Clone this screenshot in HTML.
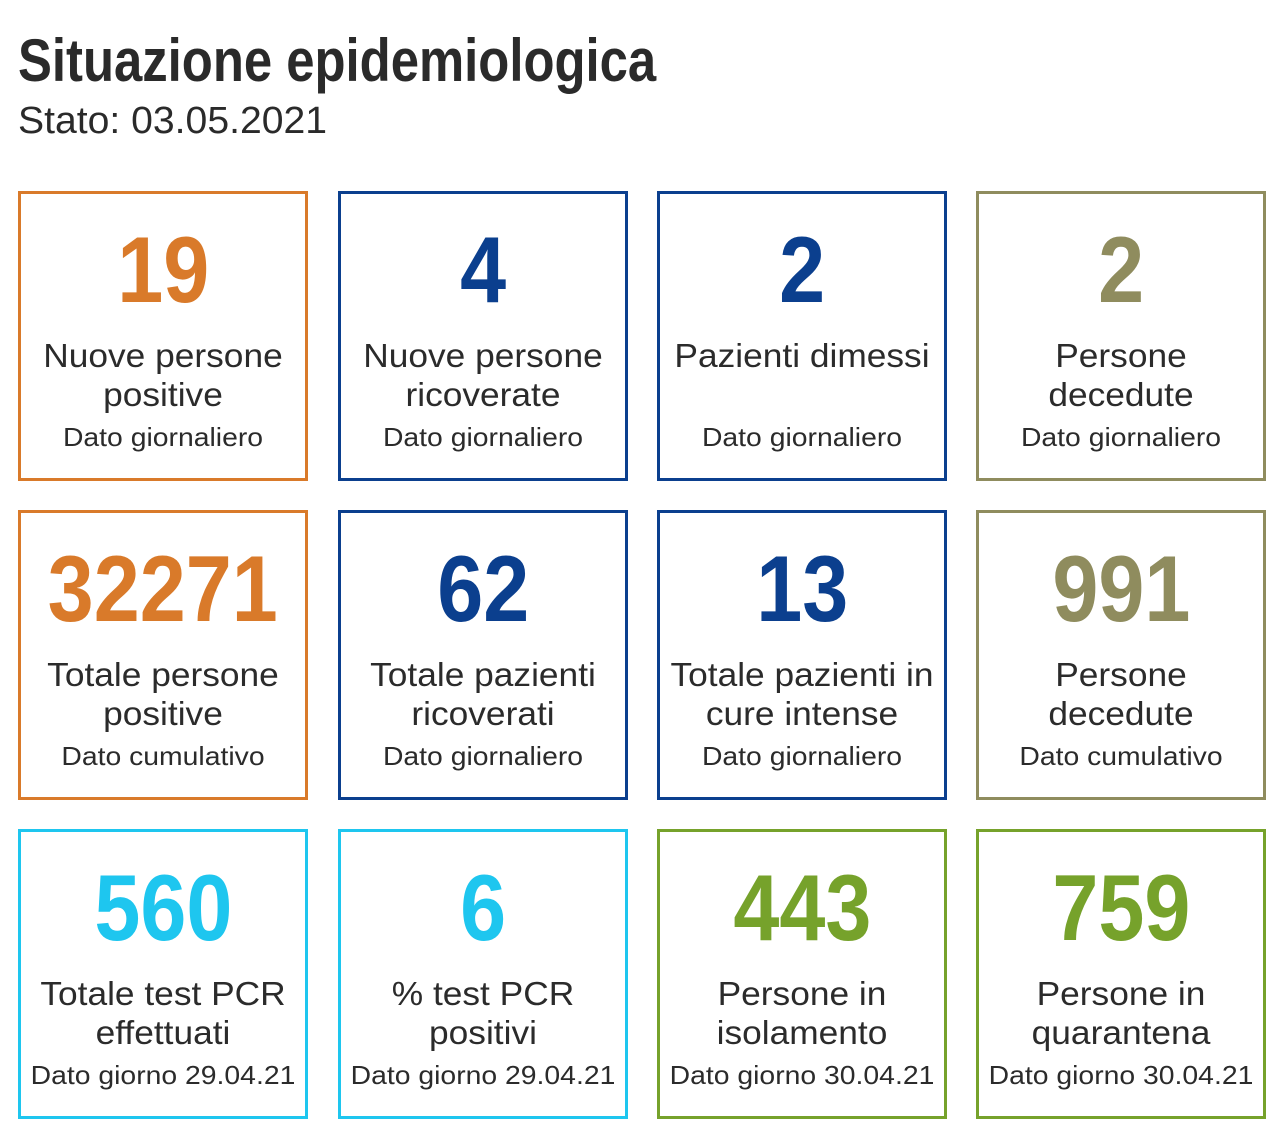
<!DOCTYPE html>
<html><head><meta charset="utf-8"><style>
body{margin:0;width:1280px;height:1134px;background:#fff;font-family:"Liberation Sans",Arial,sans-serif;color:#2b2b2b;position:relative;overflow:hidden}
.t{position:absolute;left:18px;top:26px;font-size:60px;font-weight:bold;white-space:nowrap;transform:scaleX(0.847);transform-origin:left top;color:#2a2a2a}
.s{position:absolute;left:18px;top:100px;font-size:38px;white-space:nowrap;transform:scaleX(1.03);transform-origin:left top;color:#2a2a2a}
.b{position:absolute;width:284px;height:284px;border:3px solid;box-sizing:content-box}
.n{position:absolute;left:0;right:0;top:26px;text-align:center;font-size:94px;font-weight:bold;line-height:100px}
.n span{display:inline-block;transform:scaleX(0.88)}
.l{position:absolute;left:-20px;right:-20px;top:142px;text-align:center;font-size:33px;line-height:39px;white-space:nowrap;transform:scaleX(1.07)}
.d{position:absolute;left:-20px;right:-20px;top:228px;text-align:center;font-size:26px;line-height:30px;white-space:nowrap;transform:scaleX(1.09)}
.o{border-color:#d97a2a}.o .n{color:#d97a2a}
.v{border-color:#0b3f8e}.v .n{color:#0b3f8e}
.g{border-color:#8f8c5e}.g .n{color:#8f8c5e}
.c{border-color:#1ec6ef}.c .n{color:#1ec6ef}
.e{border-color:#76a22b}.e .n{color:#76a22b}
</style></head><body>
<div class="t">Situazione epidemiologica</div>
<div class="s">Stato: 03.05.2021</div>

<div class="b o" style="left:18px;top:191px"><div class="n"><span>19</span></div><div class="l">Nuove persone<br>positive</div><div class="d">Dato giornaliero</div></div>
<div class="b v" style="left:338px;top:191px"><div class="n"><span>4</span></div><div class="l">Nuove persone<br>ricoverate</div><div class="d">Dato giornaliero</div></div>
<div class="b v" style="left:657px;top:191px"><div class="n"><span>2</span></div><div class="l">Pazienti dimessi</div><div class="d">Dato giornaliero</div></div>
<div class="b g" style="left:976px;top:191px"><div class="n"><span>2</span></div><div class="l">Persone<br>decedute</div><div class="d">Dato giornaliero</div></div>

<div class="b o" style="left:18px;top:510px"><div class="n"><span>32271</span></div><div class="l">Totale persone<br>positive</div><div class="d">Dato cumulativo</div></div>
<div class="b v" style="left:338px;top:510px"><div class="n"><span>62</span></div><div class="l">Totale pazienti<br>ricoverati</div><div class="d">Dato giornaliero</div></div>
<div class="b v" style="left:657px;top:510px"><div class="n"><span>13</span></div><div class="l">Totale pazienti in<br>cure intense</div><div class="d">Dato giornaliero</div></div>
<div class="b g" style="left:976px;top:510px"><div class="n"><span>991</span></div><div class="l">Persone<br>decedute</div><div class="d">Dato cumulativo</div></div>

<div class="b c" style="left:18px;top:829px"><div class="n"><span>560</span></div><div class="l">Totale test PCR<br>effettuati</div><div class="d">Dato giorno 29.04.21</div></div>
<div class="b c" style="left:338px;top:829px"><div class="n"><span>6</span></div><div class="l">% test PCR<br>positivi</div><div class="d">Dato giorno 29.04.21</div></div>
<div class="b e" style="left:657px;top:829px"><div class="n"><span>443</span></div><div class="l">Persone in<br>isolamento</div><div class="d">Dato giorno 30.04.21</div></div>
<div class="b e" style="left:976px;top:829px"><div class="n"><span>759</span></div><div class="l">Persone in<br>quarantena</div><div class="d">Dato giorno 30.04.21</div></div>
</body></html>
